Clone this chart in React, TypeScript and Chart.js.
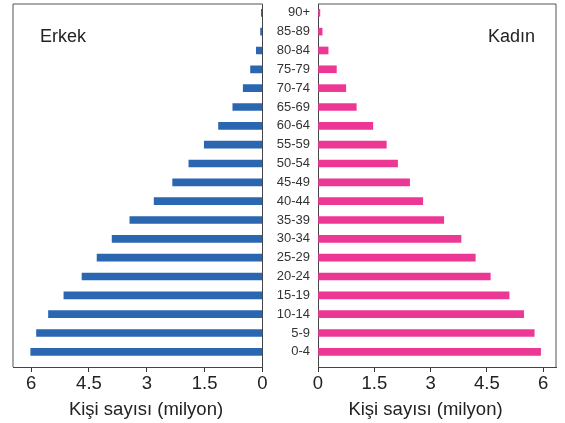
import React, { useEffect, useRef } from 'react';
import { Chart, registerables } from 'chart.js';

Chart.register(...registerables);
Chart.defaults.font.family = '"Liberation Sans", Arial, Helvetica, sans-serif';

// Age groups from bottom (youngest) to top (oldest)
const ageGroups = ['0-4', '5-9', '10-14', '15-19', '20-24', '25-29', '30-34', '35-39', '40-44', '45-49', '50-54', '55-59', '60-64', '65-69', '70-74', '75-79', '80-84', '85-89', '90+'];
// Population in millions
const maleValues = [6.01, 5.86, 5.55, 5.15, 4.68, 4.29, 3.9, 3.44, 2.81, 2.33, 1.91, 1.51, 1.14, 0.77, 0.5, 0.31, 0.16, 0.05, 0.03];
const femaleValues = [5.93, 5.76, 5.48, 5.09, 4.59, 4.19, 3.81, 3.35, 2.79, 2.44, 2.12, 1.82, 1.46, 1.02, 0.74, 0.49, 0.27, 0.11, 0.05];
const xTicks = [0, 1.5, 3, 4.5, 6];

const maleLabel = 'Erkek';
const femaleLabel = 'Kadın';
const axisTitle = 'Kişi sayısı (milyon)';

const MALE_COLOR = '#2b66b1';
const FEMALE_COLOR = '#ec3894';
const AXIS_COLOR = '#444';
const TEXT_COLOR = '#222';

const Y_MIN = -0.807;
const Y_MAX = 18.467;

function framePlugin(side: 'left' | 'right') {
  return {
    id: 'frame_' + side,
    afterDraw(chart: any) {
      const { ctx, chartArea: a } = chart;
      ctx.save();
      ctx.strokeStyle = '#555';
      ctx.lineWidth = 1;
      ctx.beginPath();
      ctx.moveTo(a.left, a.top);
      ctx.lineTo(a.right, a.top);
      const x = side === 'left' ? a.left : a.right;
      ctx.moveTo(x, a.top);
      ctx.lineTo(x, a.bottom);
      ctx.stroke();
      ctx.restore();
    },
  };
}

function xScale(reverse: boolean, max: number) {
  return {
    type: 'linear' as const,
    reverse,
    min: 0,
    max,
    offset: false,
    afterBuildTicks: (s: any) => {
      s.ticks = xTicks.map((v) => ({ value: v }));
    },
    afterFit: (s: any) => {
      s.height = 56;
      s.paddingLeft = 0;
      s.paddingRight = 0;
    },
    grid: { display: true, drawOnChartArea: false, drawTicks: true, tickLength: 5, color: '#333', offset: false },
    border: { display: true, color: AXIS_COLOR, width: 1 },
    ticks: {
      font: { size: 18.5 },
      color: TEXT_COLOR,
      padding: 1,
      maxRotation: 0,
      autoSkip: false,
      callback: (v: any) => String(v),
    },
  };
}

export default function App() {
  const leftRef = useRef<HTMLCanvasElement>(null);
  const rightRef = useRef<HTMLCanvasElement>(null);

  useEffect(() => {
    const left = new Chart(leftRef.current!, {
      type: 'bar',
      data: {
        datasets: [
          {
            label: maleLabel,
            data: maleValues.map((v, i) => ({ x: v, y: i })),
            backgroundColor: MALE_COLOR,
            barThickness: 7,
            borderWidth: 0,
          },
        ],
      },
      options: {
        indexAxis: 'y',
        responsive: false,
        animation: false,
        devicePixelRatio: 1,
        layout: { padding: { left: 13, right: 7.5, top: 4, bottom: 0 } },
        plugins: { legend: { display: false }, tooltip: { enabled: false } },
        scales: {
          x: xScale(true, 6.47),
          y: {
            type: 'linear',
            position: 'right',
            min: Y_MIN,
            max: Y_MAX,
            offset: false,
            ticks: { display: false },
            grid: { display: false, drawTicks: false, offset: false },
            border: { display: true, color: AXIS_COLOR, width: 1 },
            afterFit: (s: any) => {
              s.width = 0;
              s.paddingTop = 0;
              s.paddingBottom = 0;
            },
          },
        },
      } as any,
      plugins: [framePlugin('left')],
    });

    const right = new Chart(rightRef.current!, {
      type: 'bar',
      data: {
        datasets: [
          {
            label: femaleLabel,
            data: femaleValues.map((v, i) => ({ x: v, y: i })),
            backgroundColor: FEMALE_COLOR,
            barThickness: 7,
            borderWidth: 0,
          },
        ],
      },
      options: {
        indexAxis: 'y',
        responsive: false,
        animation: false,
        devicePixelRatio: 1,
        layout: { padding: { left: 0, right: 9, top: 4, bottom: 0 } },
        plugins: { legend: { display: false }, tooltip: { enabled: false } },
        scales: {
          x: xScale(false, 6.34),
          y: {
            type: 'linear',
            position: 'left',
            min: Y_MIN,
            max: Y_MAX,
            offset: false,
            afterBuildTicks: (s: any) => {
              s.ticks = ageGroups.map((_, i) => ({ value: i }));
            },
            ticks: {
              autoSkip: false,
              padding: 8,
              font: { size: 13 },
              color: '#333',
              callback: (v: any) => ageGroups[v] ?? '',
            },
            grid: { display: false, drawTicks: false, offset: false },
            border: { display: true, color: AXIS_COLOR, width: 1 },
            afterFit: (s: any) => {
              s.width = 56;
              s.paddingTop = 0;
              s.paddingBottom = 0;
            },
          },
        },
      } as any,
      plugins: [framePlugin('right')],
    });

    return () => {
      left.destroy();
      right.destroy();
    };
  }, []);

  const font = '"Liberation Sans", Arial, Helvetica, sans-serif';
  const textStyle: React.CSSProperties = {
    position: 'absolute',
    fontFamily: font,
    color: TEXT_COLOR,
    lineHeight: 1,
    whiteSpace: 'nowrap',
  };

  return (
    <div style={{ position: 'absolute', left: 0, top: 0, width: 565, height: 423, background: '#fff', overflow: 'hidden' }}>
      <canvas ref={leftRef} width={270} height={423} style={{ position: 'absolute', left: 0, top: 0 }} />
      <canvas ref={rightRef} width={303} height={423} style={{ position: 'absolute', left: 262, top: 0 }} />
      <div style={{ ...textStyle, left: 40, top: 27, fontSize: 18 }}>{maleLabel}</div>
      <div style={{ ...textStyle, left: 488, top: 27, fontSize: 18 }}>{femaleLabel}</div>
      <div style={{ ...textStyle, left: 46, width: 200, textAlign: 'center', top: 399.5, fontSize: 18.5 }}>{axisTitle}</div>
      <div style={{ ...textStyle, left: 325.5, width: 200, textAlign: 'center', top: 399.5, fontSize: 18.5 }}>{axisTitle}</div>
    </div>
  );
}
